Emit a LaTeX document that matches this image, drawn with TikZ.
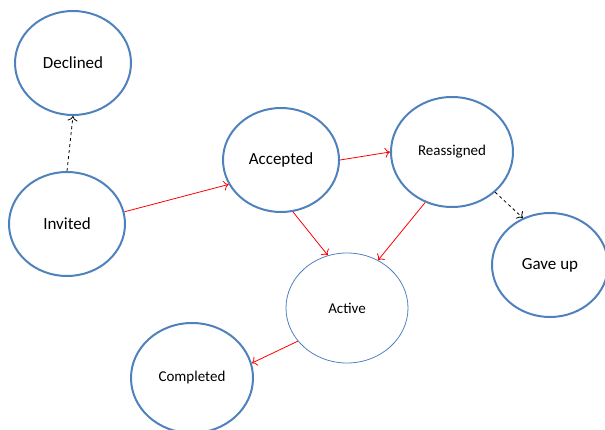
\documentclass[tikz,border=0pt]{standalone}
\usepackage{fontspec}
\setmainfont{Carlito}
\usepackage{tikz}
\usetikzlibrary{arrows.meta,shapes.geometric}
\definecolor{stateblue}{RGB}{79,129,189}

\begin{document}
\begin{tikzpicture}[
  x=1pt,y=-1pt,
  state/.style={ellipse,draw=stateblue,line width=2pt,inner sep=0pt,
                minimum width=116pt,minimum height=104pt,
                font=\fontsize{17}{20}\selectfont},
  small/.style={minimum width=122pt,minimum height=110pt,
                font=\fontsize{15}{18}\selectfont},
  ar/.style={-{To[length=5pt,width=10pt]},red,line width=0.8pt},
  fb/.style={-{To[length=5pt,width=10pt]},black,dashed,line width=0.8pt}
]
\useasboundingbox (0,0) rectangle (605,430);

\node[state] (decl) at (73,63)   {Declined};
\node[state] (inv)  at (67,224)  {Invited};
\node[state] (acc)  at (281,160) {Accepted};
\node[state,small] (reas) at (452,152) {Reassigned};
\node[state] (gave) at (550,265) {Gave up};
\node[state,small,line width=0.8pt] (act) at (347,308) {Active};
\node[state,small] (comp) at (192,378) {Completed};

\draw[fb] (inv.90) -- (decl.270);
\draw[ar] (inv.12) -- (acc.205);
\draw[ar] (acc.0) -- (reas.180);
\draw[ar] (acc.283) -- (act.110);
\draw[ar] (reas.242) -- (act.57);
\draw[fb] (reas.317) -- (gave.120);
\draw[ar] (act.214) -- (comp.14);
\end{tikzpicture}
\end{document}
